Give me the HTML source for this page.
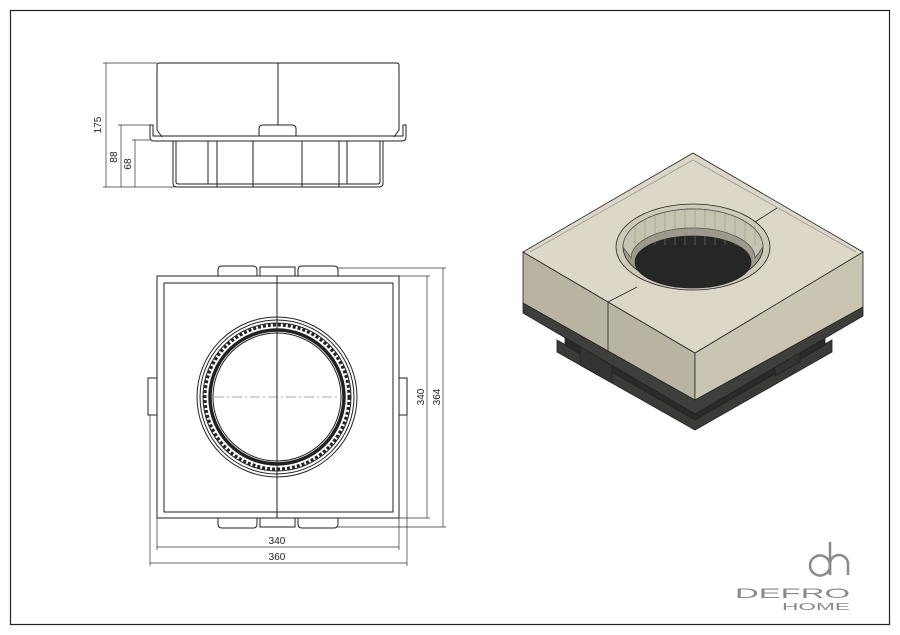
<!DOCTYPE html>
<html><head><style>html,body{margin:0;padding:0;background:#fff}svg{display:block}</style></head><body>
<svg width="900" height="635" viewBox="0 0 900 635" xmlns="http://www.w3.org/2000/svg" font-family="Liberation Sans, sans-serif">
<rect x="10.5" y="10.5" width="879" height="614" fill="none" stroke="#222" stroke-width="1.2"/>
<g fill="none" stroke="#222" stroke-width="1">
<path d="M157,65 Q157,63 160,63 L396,63 Q399,63 399,65 L399,130 L394,137 M157,65 L157,130 L162,137"/>
<line x1="278" y1="63" x2="278" y2="125"/>
<path d="M150,125 L150,137 Q150,141 154,141 L402,141 Q406,141 406,137 L406,125 L403,125 L403,136 L153,136 L153,125 Z"/>
<path d="M259,136 L259,129 Q259,125 263,125 L292,125 Q296,125 296,129 L296,136"/>
<path d="M173,141 L173,183 Q173,187 177,187 L379,187 Q383,187 383,183 L383,141"/>
<path d="M176,141 L176,182 Q176,184 179,184 L377,184 Q380,184 380,182 L380,141"/>
<path d="M208,141 V184 M217,141 V187 M253,141 V187 M302,141 V187 M339,141 V187 M347,141 V184"/>
</g>
<g stroke="#333" stroke-width="0.7" fill="none">
<path d="M103,63 H157 M118,125 H150 M132,140 H150 M103,187 H175"/>
<path d="M106,63 V187 M121,125 V187 M135,140 V187"/>
</g>
<g font-size="10" fill="#222" text-anchor="middle">
<text transform="translate(101,125) rotate(-90)">175</text>
<text transform="translate(117,157) rotate(-90)">88</text>
<text transform="translate(131,164) rotate(-90)">68</text>
</g>
<g fill="none" stroke="#222" stroke-width="1">
<rect x="157" y="276" width="242" height="242"/>
<rect x="164" y="283" width="229" height="229"/>
<path d="M218,276 V270 Q218,266 222,266 H253 Q257,266 257,270 V276"/>
<path d="M298,276 V270 Q298,266 302,266 H334 Q338,266 338,270 V276"/>
<rect x="260" y="267" width="35" height="9"/>
<path d="M218,518 V524 Q218,528 222,528 H253 Q257,528 257,524 V518"/>
<path d="M298,518 V524 Q298,528 302,528 H334 Q338,528 338,524 V518"/>
<rect x="260" y="518" width="35" height="9"/>
<rect x="148" y="378" width="9" height="37"/>
<rect x="399" y="378" width="8" height="37"/>
<line x1="277" y1="276" x2="277" y2="518"/>
<circle cx="277" cy="397" r="80"/>
<circle cx="277" cy="397" r="77"/>
<circle cx="277" cy="397" r="72" stroke-dasharray="3 2" stroke-width="3"/>
<circle cx="277" cy="397" r="74"/>
<circle cx="277" cy="397" r="67" stroke-width="3.5"/>
<circle cx="277" cy="397" r="64"/>
</g>
<line x1="214" y1="397" x2="340" y2="397" stroke="#555" stroke-width="0.6" stroke-dasharray="10 3 2 3"/>
<g stroke="#333" stroke-width="0.7" fill="none">
<path d="M399,276 H430 M399,518 H430 M338,268 H446 M338,527 H446"/>
<path d="M427,276 V518 M443,268 V527"/>
<path d="M157,518 V550 M399,518 V550 M150,415 V566 M407,415 V566"/>
<path d="M157,547 H399 M150,563 H407"/>
</g>
<g font-size="10" fill="#222" text-anchor="middle">
<text x="277" y="544">340</text>
<text x="277" y="560">360</text>
<text transform="translate(424,397) rotate(-90)">340</text>
<text transform="translate(440,397) rotate(-90)">364</text>
</g>
<g stroke="#222" stroke-width="0.8">
<polygon points="557,340 695,418 832,340 832,352 695,430 557,352" fill="#3a3a38"/>
<polygon points="565,318 695,393 825,318 825,345 695,420 565,345" fill="#2a2a29"/>
<polygon points="580,345 612,363 612,383 580,365" fill="#333"/>
<polygon points="775,360 800,346 800,362 775,376" fill="#333"/>
<polygon points="523,303 695,400 863,307 863,316 695,414 523,313" fill="#3e3e3c"/>
<polygon points="523,252 695,353 695,400 523,303" fill="#b9b4a2"/>
<polygon points="695,353 863,252 863,307 695,400" fill="#cac5b2"/>
<polygon points="693,153 863,252 695,353 523,252" fill="#dcd7c6"/>
<line x1="608" y1="302" x2="608" y2="352"/>
<line x1="608" y1="302" x2="637" y2="287"/>
<line x1="755" y1="222" x2="777" y2="208"/>
<ellipse cx="693" cy="247" rx="77" ry="43" fill="#cfcab8"/>
<ellipse cx="693" cy="247" rx="70" ry="38" fill="#9e9a8c"/>
<path d="M623,247 A70,38 0 0 1 763,247 L755,258 A62,30 0 0 0 631,258 Z" fill="#c8c3b0" stroke="#555"/>
<ellipse cx="693" cy="262" rx="58" ry="26" fill="#262626"/>
</g>
<polyline points="530,252 693,160 856,252" fill="none" stroke="#999" stroke-width="0.8"/>
<g stroke="#888" stroke-width="0.5">
<path d="M635,245 V225 M645,245 V220 M655,245 V216 M665,245 V213 M675,245 V211 M685,245 V210 M695,245 V210 M705,245 V210 M715,245 V212 M725,245 V214 M735,245 V217 M745,245 V221 M755,245 V226"/>
</g>
<g fill="none" stroke="#8a8a8a" stroke-width="2.5">
<path d="M830,542 V575"/>
<path d="M830,566 A10,10 0 1 1 830,565"/>
<path d="M830,575 V564 A9,9 0 0 1 848,564 V575"/>
</g>
<text x="735" y="598" font-size="14" fill="#8a8a8a" textLength="115" lengthAdjust="spacingAndGlyphs">DEFRO</text>
<text x="782" y="610" font-size="10" fill="#8a8a8a" textLength="68" lengthAdjust="spacingAndGlyphs">HOME</text>
</svg>
</body></html>
